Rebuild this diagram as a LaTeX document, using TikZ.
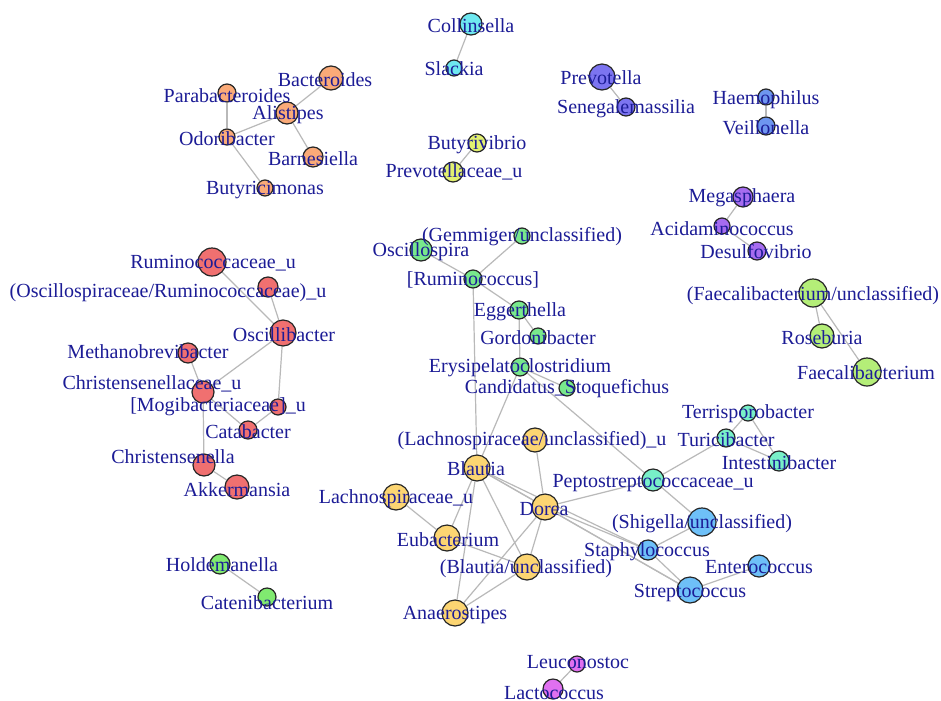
\documentclass[tikz,border=0pt]{standalone}
\usepackage{fontspec}
\setmainfont{Liberation Serif}
\pgfdeclarelayer{bg}
\pgfdeclarelayer{paper}
\pgfsetlayers{paper,bg,main}
\definecolor{labelblue}{RGB}{28,28,150}
\definecolor{edgegray}{RGB}{185,185,185}
\definecolor{corange}{RGB}{250,170,120}
\definecolor{cred}{RGB}{240,112,112}
\definecolor{cgreen}{RGB}{120,232,140}
\definecolor{cyellow}{RGB}{252,213,114}
\definecolor{cmint}{RGB}{120,240,200}
\definecolor{cblue}{RGB}{110,192,248}
\definecolor{ccyan}{RGB}{110,232,240}
\definecolor{cindigo}{RGB}{124,116,240}
\definecolor{cperi}{RGB}{110,150,240}
\definecolor{cpurple}{RGB}{166,108,240}
\definecolor{clime}{RGB}{180,238,120}
\definecolor{cyelgreen}{RGB}{226,240,112}
\definecolor{cgreentwo}{RGB}{128,234,112}
\definecolor{cmagenta}{RGB}{224,112,240}
\begin{document}
\begin{tikzpicture}[x=0.75pt,y=-0.75pt,
  vx/.style n args={2}{circle,draw=black!85,line width=0.9pt,fill=#1,minimum size=#2,inner sep=0pt},
  lbl/.style={text=labelblue,font=\fontsize{15}{18}\selectfont,inner sep=0pt,text height=0.66em,text depth=0pt,anchor=center,yshift=-2.2pt},
  lnk/.style={draw=edgegray,line width=0.9pt}]
\begin{pgfonlayer}{paper}
\fill[white] (0,0) rectangle (941,700);
\end{pgfonlayer}
\useasboundingbox (0,0) rectangle (941,700);
% ---------- vertices ----------
% orange
\node[vx={corange}{18pt}] (bact) at (331,78) {};
\node[vx={corange}{13.5pt}] (parab) at (227,93) {};
\node[vx={corange}{16.5pt}] (alis) at (287,113) {};
\node[vx={corange}{12pt}] (odor) at (227,137) {};
\node[vx={corange}{15pt}] (barn) at (313,157) {};
\node[vx={corange}{12pt}] (butm) at (265,188) {};
% red
\node[vx={cred}{21pt}] (rumu) at (212,262) {};
\node[vx={cred}{15pt}] (oscr) at (268,287) {};
\node[vx={cred}{19.5pt}] (oscb) at (283,333) {};
\node[vx={cred}{15pt}] (meth) at (188,353) {};
\node[vx={cred}{16.5pt}] (chru) at (203,392) {};
\node[vx={cred}{12pt}] (mogi) at (278,407) {};
\node[vx={cred}{13.5pt}] (cata) at (248,430) {};
\node[vx={cred}{16.5pt}] (chrs) at (204,465) {};
\node[vx={cred}{18pt}] (akk) at (237,487) {};
% green
\node[vx={cgreen}{12pt}] (gemm) at (522,236) {};
\node[vx={cgreen}{16.5pt}] (oscs) at (421,250) {};
\node[vx={cgreen}{13.5pt}] (rumc) at (473,279) {};
\node[vx={cgreen}{13.5pt}] (egg) at (519,310) {};
\node[vx={cgreen}{12pt}] (gord) at (538,336) {};
\node[vx={cgreen}{13.5pt}] (erys) at (520,367) {};
\node[vx={cgreen}{12pt}] (cand) at (567,388) {};
% yellow
\node[vx={cyellow}{18pt}] (lachu) at (535,440) {};
\node[vx={cyellow}{19.5pt}] (blau) at (477,468) {};
\node[vx={cyellow}{19.5pt}] (lachs) at (396,497) {};
\node[vx={cyellow}{19.5pt}] (dore) at (545,507) {};
\node[vx={cyellow}{19.5pt}] (eub) at (447,538) {};
\node[vx={cyellow}{19.5pt}] (blun) at (527,567) {};
\node[vx={cyellow}{19.5pt}] (anae) at (455,613) {};
% mint
\node[vx={cmint}{13.5pt}] (turi) at (726,438) {};
\node[vx={cmint}{12pt}] (terr) at (748,413) {};
\node[vx={cmint}{15pt}] (intb) at (779,461) {};
\node[vx={cmint}{16.5pt}] (pept) at (653,480) {};
% blue
\node[vx={cblue}{21pt}] (shig) at (702,522) {};
\node[vx={cblue}{15pt}] (staph) at (648,550) {};
\node[vx={cblue}{16.5pt}] (ent) at (759,566) {};
\node[vx={cblue}{19.5pt}] (strep) at (690,590) {};
% small clusters
\node[vx={ccyan}{16.5pt}] (coll) at (471,24) {};
\node[vx={ccyan}{12pt}] (slack) at (454,68) {};
\node[vx={cindigo}{19.5pt}] (prev) at (602,77) {};
\node[vx={cindigo}{13.5pt}] (sene) at (626,107) {};
\node[vx={cperi}{12pt}] (haem) at (766,97) {};
\node[vx={cperi}{13.5pt}] (veil) at (766,126) {};
\node[vx={cyelgreen}{13.5pt}] (buty) at (477,143) {};
\node[vx={cyelgreen}{15pt}] (prevu) at (453,172) {};
\node[vx={cpurple}{15pt}] (mega) at (743,197) {};
\node[vx={cpurple}{12pt}] (acid) at (722,226) {};
\node[vx={cpurple}{13.5pt}] (desu) at (757,251) {};
\node[vx={clime}{21pt}] (faun) at (813,293) {};
\node[vx={clime}{18pt}] (rose) at (822,336) {};
\node[vx={clime}{21pt}] (faec) at (867,372) {};
\node[vx={cgreentwo}{15pt}] (hold) at (220,564) {};
\node[vx={cgreentwo}{13.5pt}] (cate) at (267,597) {};
\node[vx={cmagenta}{12pt}] (leuc) at (577,664) {};
\node[vx={cmagenta}{15pt}] (lact) at (553,689) {};
% ---------- edges ----------
\begin{pgfonlayer}{bg}
\foreach \a/\b in {bact/alis,parab/odor,odor/alis,alis/barn,odor/butm,
  rumu/oscb,oscr/oscb,oscb/chru,oscb/mogi,meth/chru,chru/cata,cata/mogi,chru/chrs,chrs/akk,
  gemm/rumc,oscs/rumc,rumc/egg,egg/gord,egg/erys,erys/cand,rumc/blau,erys/blau,erys/pept,
  pept/shig,pept/turi,pept/dore,turi/terr,terr/intb,turi/intb,
  lachu/dore,blau/eub,blau/anae,blau/blun,blau/dore,blau/staph,blau/strep,
  dore/staph,dore/strep,dore/blun,dore/anae,lachs/eub,eub/blun,blun/anae,
  staph/shig,staph/strep,strep/ent,
  coll/slack,prev/sene,haem/veil,buty/prevu,mega/acid,acid/desu,
  faun/rose,faun/faec,hold/cate,leuc/lact}
  \draw[lnk] (\a) -- (\b);
\end{pgfonlayer}
% ---------- labels ----------
\node[lbl] (l-bact) at (325,79) {Bacteroides};
\node[lbl] (l-parab) at (227,95) {Parabacteroides};
\node[lbl] (l-alis) at (288,112) {Alistipes};
\node[lbl] (l-odor) at (227,138) {Odoribacter};
\node[lbl] (l-barn) at (313,158) {Barnesiella};
\node[lbl] (l-butm) at (265,187) {Butyricimonas};
\node[lbl] (l-rumu) at (213,261) {Ruminococcaceae\_u};
\node[lbl] (l-oscr) at (168,290) {(Oscillospiraceae/Ruminococcaceae)\_u};
\node[lbl] (l-oscb) at (284,334) {Oscillibacter};
\node[lbl] (l-meth) at (148,351) {Methanobrevibacter};
\node[lbl] (l-chru) at (152,382) {Christensenellaceae\_u};
\node[lbl] (l-mogi) at (218,404) {[Mogibacteriaceae]\_u};
\node[lbl] (l-cata) at (248,431) {Catabacter};
\node[lbl] (l-chrs) at (173,456) {Christensenella};
\node[lbl] (l-akk) at (237,489) {Akkermansia};
\node[lbl] (l-gemm) at (522,234) {(Gemmiger/unclassified)};
\node[lbl] (l-oscs) at (421,249) {Oscillospira};
\node[lbl] (l-rumc) at (473,278) {[Ruminococcus]};
\node[lbl] (l-egg) at (520,309) {Eggerthella};
\node[lbl] (l-gord) at (538,337) {Gordonibacter};
\node[lbl] (l-erys) at (520,365) {Erysipelatoclostridium};
\node[lbl] (l-cand) at (567,386) {Candidatus\_Stoquefichus};
\node[lbl] (l-lachu) at (532,438) {(Lachnospiraceae/unclassified)\_u};
\node[lbl] (l-blau) at (476,468) {Blautia};
\node[lbl] (l-lachs) at (396,496) {Lachnospiraceae\_u};
\node[lbl] (l-dore) at (544,508) {Dorea};
\node[lbl] (l-eub) at (448,539) {Eubacterium};
\node[lbl] (l-blun) at (526,566) {(Blautia/unclassified)};
\node[lbl] (l-anae) at (455,612) {Anaerostipes};
\node[lbl] (l-terr) at (748,411) {Terrisporobacter};
\node[lbl] (l-turi) at (726,439) {Turicibacter};
\node[lbl] (l-intb) at (779,462) {Intestinibacter};
\node[lbl] (l-pept) at (653,480) {Peptostreptococcaceae\_u};
\node[lbl] (l-shig) at (702,521) {(Shigella/unclassified)};
\node[lbl] (l-staph) at (647,549) {Staphylococcus};
\node[lbl] (l-ent) at (759,566) {Enterococcus};
\node[lbl] (l-strep) at (690,590) {Streptococcus};
\node[lbl] (l-coll) at (471,25) {Collinsella};
\node[lbl] (l-slack) at (454,68) {Slackia};
\node[lbl] (l-prev) at (601,77) {Prevotella};
\node[lbl] (l-sene) at (626,106) {Senegalemassilia};
\node[lbl] (l-haem) at (766,97) {Haemophilus};
\node[lbl] (l-veil) at (766,127) {Veillonella};
\node[lbl] (l-buty) at (477,142) {Butyrivibrio};
\node[lbl] (l-prevu) at (454,170) {Prevotellaceae\_u};
\node[lbl] (l-mega) at (742,195) {Megasphaera};
\node[lbl] (l-acid) at (722,228) {Acidaminococcus};
\node[lbl] (l-desu) at (756,251) {Desulfovibrio};
\node[lbl] (l-faun) at (813,293) {(Faecalibacterium/unclassified)};
\node[lbl] (l-rose) at (822,337) {Roseburia};
\node[lbl] (l-faec) at (866,372) {Faecalibacterium};
\node[lbl] (l-hold) at (222,564) {Holdemanella};
\node[lbl] (l-cate) at (267,602) {Catenibacterium};
\node[lbl] (l-leuc) at (578,661) {Leuconostoc};
\node[lbl] (l-lact) at (554,692) {Lactococcus};
\end{tikzpicture}
\end{document}
